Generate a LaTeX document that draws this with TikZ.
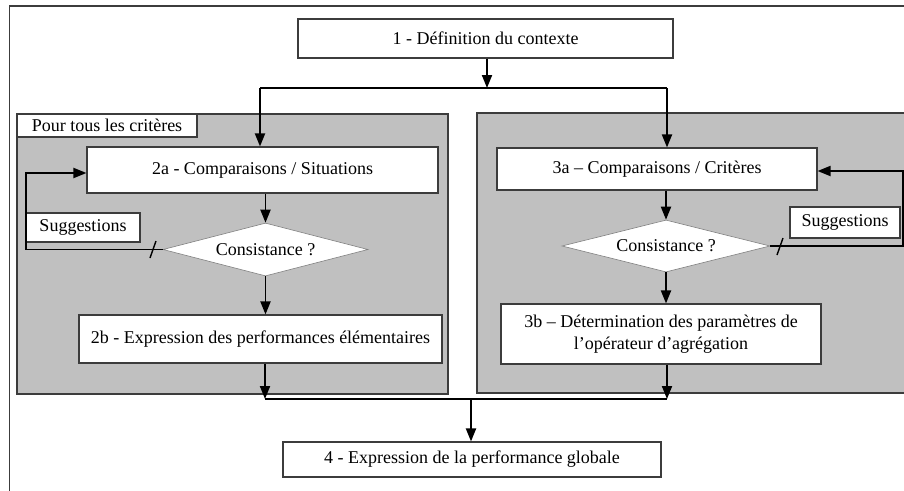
\documentclass[tikz,border=0pt]{standalone}
\usepackage{fontspec}
\setmainfont{Liberation Serif}
\usetikzlibrary{arrows.meta,shapes.geometric}
\definecolor{grayfill}{HTML}{C0C0C0}
\definecolor{edge}{HTML}{3C3C3C}
\begin{document}
\begin{tikzpicture}[x=1pt,y=-1pt,
  font=\fontsize{18}{21}\selectfont,
  box/.style={draw=edge,line width=1.1pt,fill=white,rectangle,inner sep=0pt,align=center},
  dia/.style={draw=gray,line width=0.6pt,fill=white,diamond,inner sep=0pt,aspect=4},
  conn/.style={line width=1.9pt,black},
  arr/.style={conn,-{Triangle[length=13pt,width=10pt]}},
  zone/.style={draw=edge,line width=1.1pt,fill=grayfill}]
\useasboundingbox (0,0) rectangle (904,490);
\clip (0,0) rectangle (904,490);
% outer frame
\draw[edge,line width=1.6pt] (9.5,495) -- (9.5,6) -- (910,6);
% grey zones
\draw[zone] (17,114) rectangle (448,394);
\draw[zone] (477,113) rectangle (915,393);
% nodes
\node[box,minimum width=375pt,minimum height=39pt] (b1) at (485.5,38.5) {1 - Définition du contexte};
\node[box,minimum width=180pt,minimum height=23pt] (lab) at (107,125.5) {Pour tous les critères};
\node[box,minimum width=351pt,minimum height=46pt] (b2a) at (262.5,170) {2a - Comparaisons / Situations};
\node[dia,minimum width=205pt,minimum height=53pt] (d2) at (265.5,249.5) {Consistance ?};
\node[box,minimum width=363pt,minimum height=48pt] (b2b) at (260.5,339) {2b - Expression des performances élémentaires};
\node[box,minimum width=114pt,minimum height=29pt] (sugL) at (83,227.5) {Suggestions};
\node[box,minimum width=320pt,minimum height=42pt] (b3a) at (657,169) {3a – Comparaisons / Critères};
\node[dia,minimum width=208pt,minimum height=52pt] (d3) at (666,246) {Consistance ?};
\node[box,minimum width=110pt,minimum height=31pt] (sugR) at (845,222.5) {Suggestions};
\node[box,minimum width=320pt,minimum height=60pt,font=\fontsize{18}{22}\selectfont] (b3b) at (661,334) {3b – Détermination des paramètres de\\l’opérateur d’agrégation};
\node[box,minimum width=378pt,minimum height=35pt] (b4) at (472,459.5) {4 - Expression de la performance globale};
% coordinates
\coordinate (top) at (487,88);
\coordinate (topL) at (260,88);
\coordinate (topR) at (667,88);
\coordinate (botL) at (265,399);
\coordinate (botR) at (667,399);
\coordinate (botM) at (471,399);
\coordinate (loopL) at (26,249.5);
\coordinate (loopR) at (903,246);
% connectors
\draw[arr] (b1.south -| top) -- (top);
\draw[conn] (topL) -- (topR);
\draw[arr] (topL) -- (topL |- b2a.north);
\draw[arr] (topR) -- (topR |- b3a.north);
\draw[arr] (b2a.south -| d2.north) -- (d2.north);
\draw[arr] (d2.south) -- (d2.south |- b2b.north);
\draw[arr] (b3a.south -| d3.north) -- (d3.north);
\draw[arr] (d3.south) -- (d3.south |- b3b.north);
\draw[arr] (d2.west) -- (loopL) |- ([yshift=-3pt]b2a.west);
\draw[arr] (d3.east) -- (loopR) |- ([yshift=-2pt]b3a.east);
\draw[line width=1.4pt] (150,258) -- (156,241);
\draw[line width=1.4pt] (777,255) -- (783,238);
\draw[arr] (b2b.south -| botL) -- (botL);
\draw[arr] (b3b.south -| botR) -- (botR);
\draw[conn] (botL) -- (botR);
\draw[arr] (botM) -- (botM |- b4.north);
\end{tikzpicture}
\end{document}
